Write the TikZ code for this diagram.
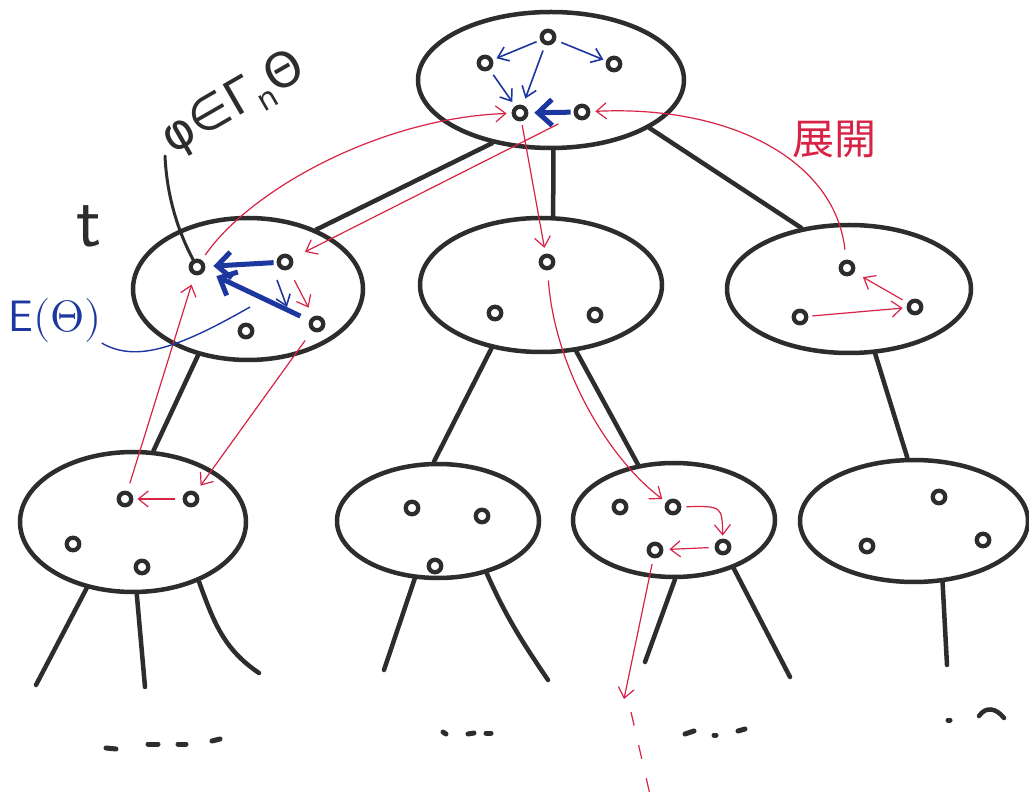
\documentclass[tikz,border=0pt]{standalone}
\usepackage{fontspec}
\usepackage{unicode-math}
\newfontfamily\jpfont{Noto Sans CJK JP}
\newfontfamily\symfont{DejaVu Sans}
\usetikzlibrary{shapes.geometric,arrows.meta}
\definecolor{ink}{RGB}{45,45,45}
\definecolor{pen}{RGB}{28,55,160}
\definecolor{redpen}{RGB}{215,35,70}
\tikzset{
  blob/.style={ellipse, draw=ink, line width=4.5pt, inner sep=0pt},
  vtx/.style={circle, draw=ink, line width=4.3pt, minimum size=12.5pt, inner sep=0pt},
  branch/.style={draw=ink, line width=4.5pt, line cap=round},
  redarr/.style={draw=redpen, line width=1.2pt, -{Straight Barb[length=10pt,width=16pt]}},
  bluearr/.style={draw=pen, line width=1.6pt, -{Straight Barb[length=10pt,width=15pt]}},
  bluethick/.style={draw=pen, line width=5pt, -{Straight Barb[length=14pt,width=26pt]}},
  dotmark/.style={draw=ink, line width=5pt, line cap=round},
}
\begin{document}
\begin{tikzpicture}[x=1pt,y=-1pt]
\useasboundingbox (0,0) rectangle (1029,799);
\fill[white] (0,0) rectangle (1029,799);

% tree nodes (each one a graph)
\node[blob, minimum width=266pt, minimum height=136pt] (T)  at (551,80)  {};
\node[blob, minimum width=230pt, minimum height=142pt] (L)  at (248,289) {};
\node[blob, minimum width=242pt, minimum height=134pt] (M)  at (541,285) {};
\node[blob, minimum width=244pt, minimum height=128pt] (R)  at (849,289) {};
\node[blob, minimum width=226pt, minimum height=140pt] (B1) at (133,522) {};
\node[blob, minimum width=202pt, minimum height=114pt] (B2) at (438,521) {};
\node[blob, minimum width=202pt, minimum height=114pt] (B3) at (674,520) {};
\node[blob, minimum width=228pt, minimum height=122pt] (B4) at (914,521) {};

% vertices
\node[vtx] (ta) at (548,37) {};
\node[vtx] (tb) at (485,63) {};
\node[vtx] (tc) at (614,64) {};
\node[vtx] (td) at (520,113) {};
\node[vtx] (te) at (582,112) {};

\node[vtx] (la) at (197,267) {};
\node[vtx] (lb) at (285,262) {};
\node[vtx] (lc) at (246,331) {};
\node[vtx] (ld) at (317,324) {};

\node[vtx] (ma) at (547,262) {};
\node[vtx] (mb) at (495,313) {};
\node[vtx] (mc) at (595,315) {};

\node[vtx] (ra) at (847,268) {};
\node[vtx] (rb) at (800,317) {};
\node[vtx] (rc) at (915,307) {};

\node[vtx] (pa) at (125,499) {};
\node[vtx] (pb) at (191,499) {};
\node[vtx] (pc) at (73,544) {};
\node[vtx] (pd) at (142,567) {};

\node[vtx] (qa) at (412,508) {};
\node[vtx] (qb) at (482,516) {};
\node[vtx] (qc) at (435,566) {};

\node[vtx] (sa) at (620,507) {};
\node[vtx] (sb) at (673,507) {};
\node[vtx] (sc) at (723,547) {};
\node[vtx] (sd) at (655,550) {};

\node[vtx] (ua) at (939,497) {};
\node[vtx] (ub) at (867,546) {};
\node[vtx] (uc) at (983,540) {};

% tree branches
\draw[branch] (T.227) -- (L.41);
\draw[branch] (T.-88) -- (M.80);
\draw[branch] (T.-26) -- (R.128);
\draw[branch] (L.233) -- (B1.74);
\draw[branch] (M.232) -- (B2.94);
\draw[branch] (M.298) -- (B3.123);
\draw[branch] (R.292) -- (B4.96);

% open branches below the last level
\coordinate (b1l) at (36,685);
\coordinate (b1m) at (145,687);
\coordinate (b1r) at (259,673);
\coordinate (b2l) at (384,670);
\coordinate (b2r) at (548,680);
\coordinate (b3l) at (645,662);
\coordinate (b3r) at (790,677);
\coordinate (b4m) at (947,665);
\draw[branch] (B1.235) -- (b1l);
\draw[branch] (B1.273) -- (b1m);
\draw[branch] (B1.318) to[out=-70,in=146] (b1r);
\draw[branch] (B2.248) -- (b2l);
\draw[branch] (B2.313) to[out=-66,in=124] (b2r);
\draw[branch] (B3.271) -- (b3l);
\draw[branch] (B3.321) -- (b3r);
\draw[branch] (B4.295) -- (b4m);

% continuation marks
\draw[dotmark] (106,748) -- (116,749);
\draw[dotmark] (148,744) -- (158,744);
\draw[dotmark] (178,744) -- (186,744);
\draw[dotmark] (212,741) -- (220,739);
\draw[dotmark] (443,732) -- (446,734);
\draw[dotmark] (468,734) -- (474,733);
\draw[dotmark] (486,733) -- (491,733);
\draw[dotmark] (685,734) -- (694,731);
\draw[dotmark] (714,735) -- (716,735);
\draw[dotmark] (738,731) -- (745,729);
\draw[dotmark] (948,720) -- (950,720);
\draw[ink, line width=4.5pt, line cap=round] (979,716) .. controls (986,706) and (996,708) .. (1004,718);

% edges of the graphs (blue)
\draw[bluearr, shorten <=4pt, shorten >=4pt] (ta) -- (tb);
\draw[bluearr, shorten <=6pt, shorten >=3pt] (ta) -- (tc);
\draw[bluearr, shorten <=6pt, shorten >=7pt] (ta) -- (td);
\draw[bluearr, shorten <=6pt, shorten >=5pt] (tb) -- (td);
\draw[bluethick, shorten <=3pt, shorten >=6pt] (te) -- (td);
\draw[bluethick, shorten <=3pt, shorten >=8pt] (lb) -- (la);
\draw[bluethick, shorten <=10pt, shorten >=13pt] (ld) -- (la);
\draw[bluearr] ([shift={(-8,18)}]lb.center) -- ([shift={(-30,-17)}]ld.center);

% expansion steps (red)
\draw[redarr, shorten <=6pt, shorten >=5pt] (la) .. controls (250,190) and (380,118) .. (td);
\draw[redarr, shorten <=4pt, shorten >=6pt] (td) -- (ma);
\draw[redarr, shorten <=18pt, shorten >=14pt] (te) -- (lb);
\draw[redarr, shorten <=10pt, shorten >=5pt] (ra) .. controls (835,160) and (730,105) .. (te);
\draw[redarr, shorten <=4pt, shorten >=4pt] (rb) -- (rc);
\draw[redarr, shorten <=6pt, shorten >=10pt] (rc) -- (ra);
\draw[redarr, shorten <=12pt, shorten >=10pt] (lb) -- (ld);
\draw[redarr, shorten <=10pt, shorten >=5pt] (ma) .. controls (555,370) and (610,460) .. (sb);
\draw[redarr, shorten <=12pt, shorten >=8pt] (ld) -- (pb);
\draw[redarr, shorten <=8pt, shorten >=10pt] (pa) -- (la);
\draw[redarr, shorten <=8pt, shorten >=4pt] (pb) -- (pa);
\draw[redarr, shorten <=5pt, shorten >=3pt] (sb) .. controls (722,506) .. (sc);
\draw[redarr, shorten <=6pt, shorten >=6pt] (sc) -- (sd);
\coordinate (sdown) at (624,699);
\draw[redarr, shorten <=6pt] (sd) -- (sdown);
\coordinate (dashtop) at (631,712);
\coordinate (dashend) at (651,799);
\draw[redpen, line width=1.2pt, dash pattern=on 14pt off 20pt] (dashtop) -- (dashend);

% labels
\node[font=\fontsize{74}{76}\selectfont\sffamily, text=ink, inner sep=0pt] (tlabel) at (89,226) {t};
\node[font=\fontsize{48}{50}\selectfont\symfont, text=ink, rotate=30, inner sep=0pt]
  (philabel) at (234,104) {φ∈Γ\raisebox{-0.2em}{\fontsize{30}{30}\selectfont n}Θ};
\coordinate (phitail) at (165,156);
\draw[ink, line width=3pt, line cap=round] (phitail) .. controls (167,200) and (180,235) .. (la);

\node[font=\fontsize{44}{46}\selectfont, text=pen, inner sep=0pt] (elab) at (55,321) {$\mathsf{E}(\Theta)$};
\coordinate (etail) at (250,307);
\draw[pen, line width=1.4pt] (elab.south east) .. controls (135,362) and (175,350) .. (etail);

\node[font=\fontsize{42}{44}\selectfont\jpfont, text=redpen, inner sep=0pt] (tenkai) at (834,139) {展開};
\end{tikzpicture}
\end{document}
